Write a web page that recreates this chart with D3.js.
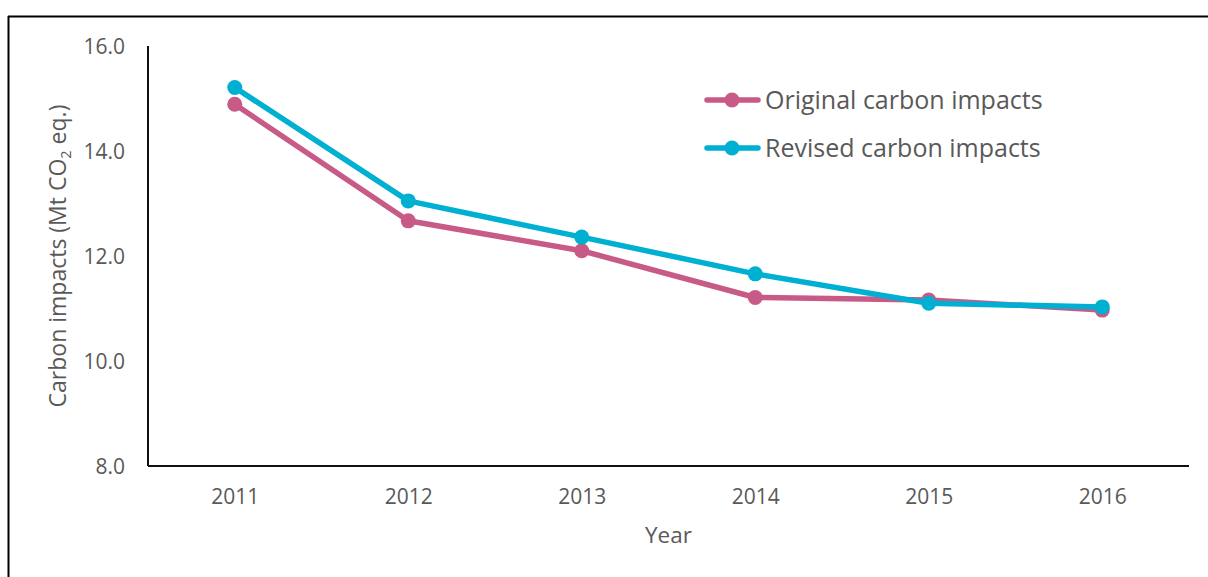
<!DOCTYPE html>
<html>
<head>
<meta charset="utf-8">
<script src="https://cdn.jsdelivr.net/npm/d3@7"></script>
<style>
  html, body { margin: 0; padding: 0; background: #fff; }
  svg { display: block; }
  text { font-family: "Open Sans", "Noto Sans", sans-serif; fill: #595959; }
</style>
</head>
<body>
<svg id="chart" width="1208" height="577"></svg>
<script>
// Data
const years = ["2011", "2012", "2013", "2014", "2015", "2016"];
const originalImpacts = [14.89, 12.67, 12.10, 11.21, 11.16, 10.97];
const revisedImpacts  = [15.21, 13.05, 12.36, 11.66, 11.10, 11.03];
const yTicks = [8, 10, 12, 14, 16];
const seriesNames = ["Original carbon impacts", "Revised carbon impacts"];
const seriesColors = ["#C75A86", "#00B0D2"];

const W = 1208, H = 577;
const plot = { left: 148, right: 1189, top: 46, bottom: 466 };

const svg = d3.select("#chart");

// Outer frame (top and left edges)
svg.append("line").attr("x1", 8).attr("x2", W).attr("y1", 16.5).attr("y2", 16.5)
  .attr("stroke", "#000").attr("stroke-width", 2);
svg.append("line").attr("x1", 8.5).attr("x2", 8.5).attr("y1", 16).attr("y2", H)
  .attr("stroke", "#000").attr("stroke-width", 2);

const x = d3.scalePoint().domain(years).range([plot.left, plot.right]).padding(0.5);
const y = d3.scaleLinear().domain([8, 16]).range([plot.bottom, plot.top]);

// Axes
const yAxis = svg.append("g").attr("transform", `translate(${plot.left},0)`)
  .call(d3.axisLeft(y).tickValues(yTicks).tickFormat(d3.format(".1f")).tickSize(0).tickPadding(23));
yAxis.select(".domain").attr("stroke", "#111").attr("stroke-width", 2)
  .attr("d", `M0,${plot.top}V${plot.bottom}`);
yAxis.selectAll(".tick text").style("font-size", "21px").attr("fill", "#595959")
  .attr("dy", "0.36em").style("font-family", '"Open Sans", sans-serif');

const xAxis = svg.append("g").attr("transform", `translate(0,${plot.bottom})`)
  .call(d3.axisBottom(x).tickSize(0).tickPadding(0));
xAxis.select(".domain").attr("stroke", "#111").attr("stroke-width", 2)
  .attr("d", `M${plot.left},0H${plot.right}`);
xAxis.selectAll(".tick text").style("font-size", "21px").attr("fill", "#595959")
  .attr("y", 37.5).attr("dy", 0).style("font-family", '"Open Sans", sans-serif');

// Axis titles
svg.append("text").attr("x", (plot.left + plot.right) / 2).attr("y", 543)
  .attr("text-anchor", "middle").style("font-size", "22.5px").text("Year");

const yTitle = svg.append("text")
  .attr("transform", `translate(66,${(plot.top + plot.bottom) / 2}) rotate(-90)`)
  .attr("text-anchor", "middle").style("font-size", "23px");
yTitle.append("tspan").text("Carbon impacts (Mt CO");
yTitle.append("tspan").attr("dy", 5).style("font-size", "14.5px").text("2");
yTitle.append("tspan").attr("dy", -5).text(" eq.)");

// Series
const series = [originalImpacts, revisedImpacts];
const line = d3.line().x((d, i) => x(years[i])).y(d => y(d));

series.forEach((vals, s) => {
  const g = svg.append("g");
  g.append("path").datum(vals).attr("d", line)
    .attr("fill", "none").attr("stroke", seriesColors[s])
    .attr("stroke-width", 5.5).attr("stroke-linejoin", "round").attr("stroke-linecap", "round");
  g.selectAll("circle").data(vals).join("circle")
    .attr("cx", (d, i) => x(years[i])).attr("cy", d => y(d)).attr("r", 7.5)
    .attr("fill", seriesColors[s]);
});

// Legend
const legend = svg.append("g");
seriesNames.forEach((name, s) => {
  const ly = 100 + s * 48;
  legend.append("line").attr("x1", 707).attr("x2", 758).attr("y1", ly).attr("y2", ly)
    .attr("stroke", seriesColors[s]).attr("stroke-width", 5.5).attr("stroke-linecap", "round");
  legend.append("circle").attr("cx", 732).attr("cy", ly).attr("r", 7.5).attr("fill", seriesColors[s]);
  legend.append("text").attr("x", 765).attr("y", ly).attr("dy", "0.35em")
    .style("font-size", "25px").text(name);
});
</script>
</body>
</html>
